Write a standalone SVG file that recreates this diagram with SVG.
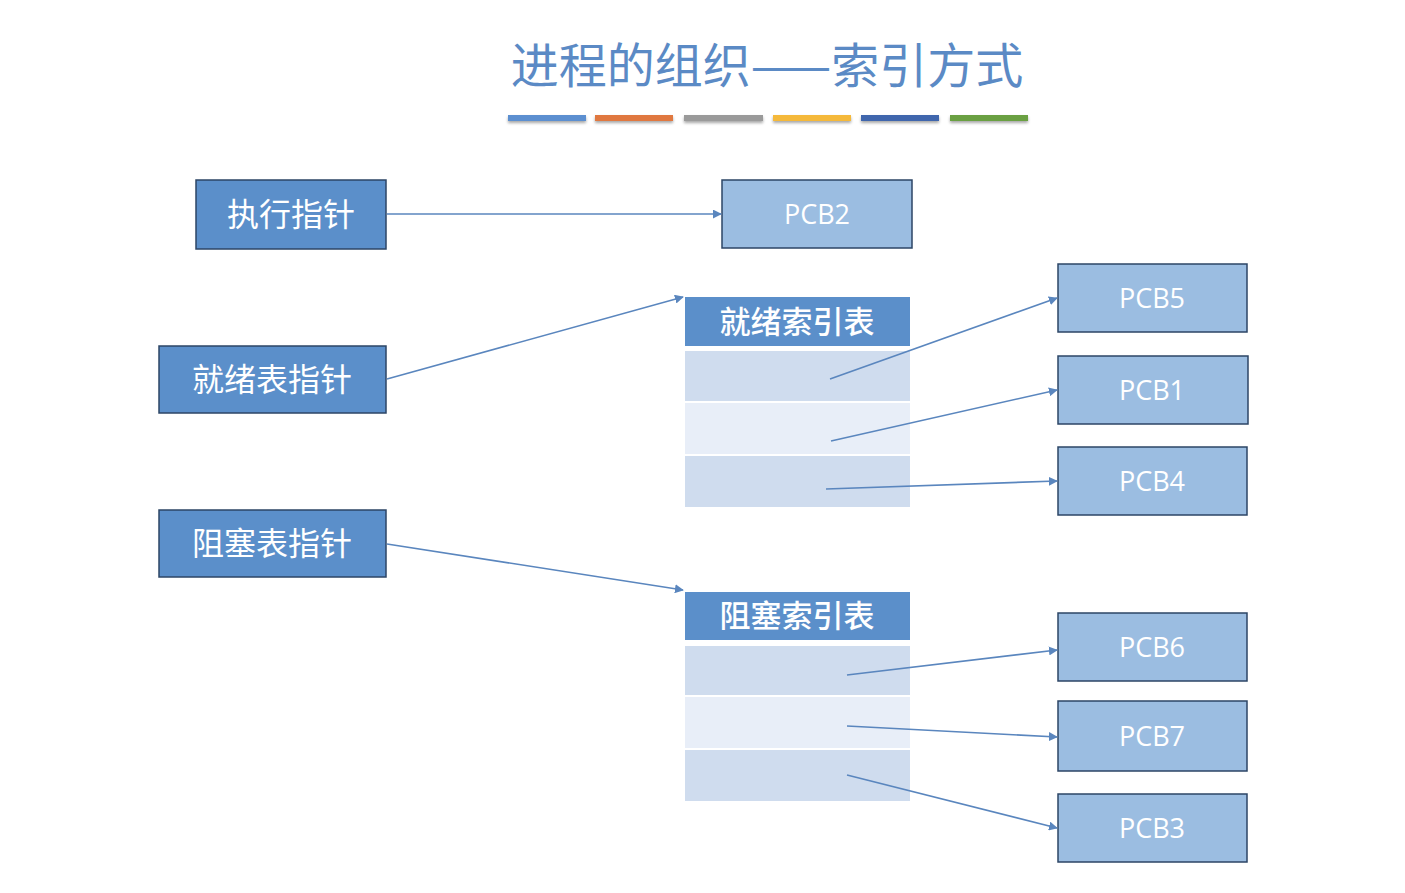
<svg xmlns="http://www.w3.org/2000/svg" width="1405" height="893" viewBox="0 0 1405 893">
<defs>
<marker id="arr" viewBox="0 0 10 10" refX="9" refY="5" markerWidth="9" markerHeight="9" markerUnits="userSpaceOnUse" orient="auto">
<path d="M0,0 L10,5 L0,10 z" fill="#5a86be"/>
</marker>
<filter id="sh" x="-5%" y="-50%" width="110%" height="250%">
<feGaussianBlur in="SourceAlpha" stdDeviation="1.5"/>
<feOffset dy="2"/>
<feComponentTransfer><feFuncA type="linear" slope="0.35"/></feComponentTransfer>
<feMerge><feMergeNode/><feMergeNode in="SourceGraphic"/></feMerge>
</filter>
</defs>
<style>
.ptr{fill:#5b8fca;stroke:#2c4566;stroke-width:1.5}
.pcb{fill:#9bbde1;stroke:#2c4566;stroke-width:1.5}
.hdr{fill:#5b8fca}
.rowa{fill:#cfdcee}
.rowb{fill:#e8eef8}
.cjk{font-family:"Noto Sans CJK SC","Noto Sans",sans-serif;fill:#ffffff;font-size:32px;text-anchor:middle}
.hd{font-family:"Noto Sans CJK SC","Noto Sans",sans-serif;fill:#ffffff;font-size:31px;font-weight:500;text-anchor:middle}
.lat{font-family:"Open Sans","Noto Sans",sans-serif;fill:#ffffff;font-size:27px;text-anchor:middle}
.ln{stroke:#5a86be;stroke-width:1.6;fill:none;marker-end:url(#arr)}
</style>
<rect x="0" y="0" width="1405" height="893" fill="#ffffff"/>
<g id="title">
<text x="767" y="83" font-family="Noto Sans CJK SC, Noto Sans, sans-serif" font-size="48" fill="#5b8ac5" text-anchor="middle">进程的组织——索引方式</text>
<g filter="url(#sh)">
<rect x="508" y="115" width="78" height="6" fill="#5b8fd0"/>
<rect x="595" y="115" width="78" height="6" fill="#e07841"/>
<rect x="684" y="115" width="79" height="6" fill="#9a9a9a"/>
<rect x="773" y="115" width="78" height="6" fill="#f5b93b"/>
<rect x="861" y="115" width="78" height="6" fill="#3f66ad"/>
<rect x="950" y="115" width="78" height="6" fill="#6aa043"/>
</g>
</g>
<g id="exec-ptr"><rect class="ptr" x="196" y="180" width="190" height="69"/><text class="cjk" x="291" y="226">执行指针</text></g>
<g id="ready-ptr"><rect class="ptr" x="159" y="346" width="227" height="67"/><text class="cjk" x="272" y="391">就绪表指针</text></g>
<g id="block-ptr"><rect class="ptr" x="159" y="510" width="227" height="67"/><text class="cjk" x="272" y="555">阻塞表指针</text></g>
<g id="pcb2"><rect class="pcb" x="722" y="180" width="190" height="68"/><text class="lat" x="817" y="224">PCB2</text></g>
<g id="ready-table">
<rect class="hdr" x="685" y="297" width="225" height="49"/>
<text class="hd" x="797" y="333">就绪索引表</text>
<rect class="rowa" x="685" y="351" width="225" height="50"/>
<rect class="rowb" x="685" y="403" width="225" height="51"/>
<rect class="rowa" x="685" y="456" width="225" height="51"/>
</g>
<g id="block-table">
<rect class="hdr" x="685" y="592" width="225" height="48"/>
<text class="hd" x="797" y="627">阻塞索引表</text>
<rect class="rowa" x="685" y="646" width="225" height="49"/>
<rect class="rowb" x="685" y="697" width="225" height="51"/>
<rect class="rowa" x="685" y="750" width="225" height="51"/>
</g>
<g id="pcb5"><rect class="pcb" x="1058" y="264" width="189" height="68"/><text class="lat" x="1152" y="308">PCB5</text></g>
<g id="pcb1"><rect class="pcb" x="1058" y="356" width="190" height="68"/><text class="lat" x="1152" y="400">PCB1</text></g>
<g id="pcb4"><rect class="pcb" x="1058" y="447" width="189" height="68"/><text class="lat" x="1152" y="491">PCB4</text></g>
<g id="pcb6"><rect class="pcb" x="1058" y="613" width="189" height="68"/><text class="lat" x="1152" y="657">PCB6</text></g>
<g id="pcb7"><rect class="pcb" x="1058" y="701" width="189" height="70"/><text class="lat" x="1152" y="746">PCB7</text></g>
<g id="pcb3"><rect class="pcb" x="1058" y="794" width="189" height="68"/><text class="lat" x="1152" y="838">PCB3</text></g>
<g id="connectors">
<line class="ln" x1="387" y1="214" x2="721" y2="214"/>
<line class="ln" x1="387" y1="379" x2="683" y2="297"/>
<line class="ln" x1="387" y1="544" x2="683" y2="590"/>
<line class="ln" x1="830" y1="379" x2="1057" y2="298"/>
<line class="ln" x1="831" y1="441" x2="1057" y2="390"/>
<line class="ln" x1="826" y1="489" x2="1057" y2="481"/>
<line class="ln" x1="847" y1="675" x2="1057" y2="650"/>
<line class="ln" x1="847" y1="726" x2="1057" y2="737"/>
<line class="ln" x1="847" y1="775" x2="1057" y2="828"/>
</g>
</svg>
